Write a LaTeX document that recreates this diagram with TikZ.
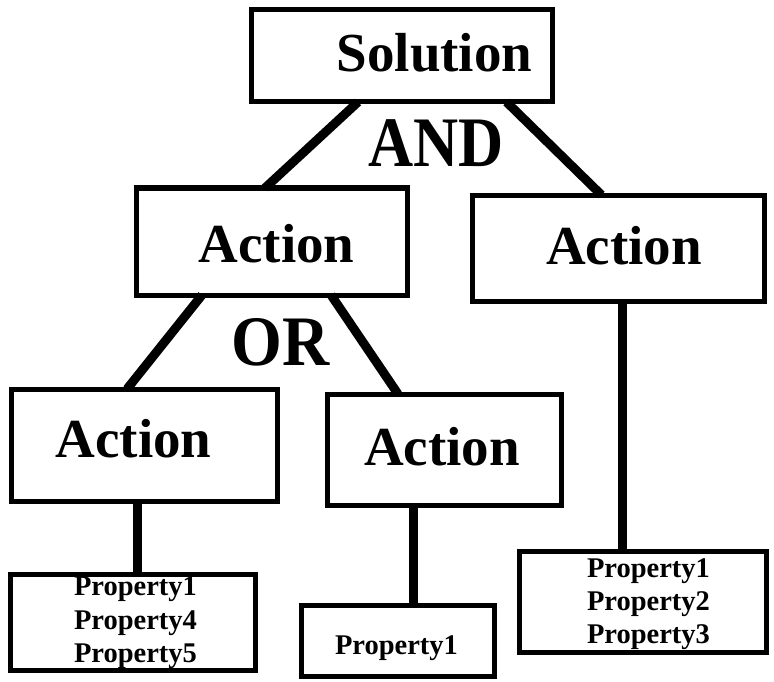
\documentclass[tikz,border=0pt]{standalone}
\usepackage{fontspec}
\usepackage{graphicx}
\setmainfont{Liberation Serif}
\usetikzlibrary{calc}
\tikzset{
  box/.style={draw=black, line width=5pt, rectangle, inner sep=0pt, outer sep=0pt, fill=white},
  conn/.style={draw=black, line width=9pt},
  bigtxt/.style={anchor=base, inner sep=0pt, font=\bfseries\fontsize{55}{60}\selectfont},
  logic/.style={anchor=base, inner sep=0pt, font=\bfseries\fontsize{71}{76}\selectfont},
  proptxt/.style={anchor=base, inner sep=0pt, font=\bfseries\fontsize{28.5}{30}\selectfont},
}
\begin{document}
\begin{tikzpicture}[x=1pt, y=-1pt]
\useasboundingbox (0,0) rectangle (774,682);
% boxes
\node[box, minimum width=301pt, minimum height=92pt] (sol) at (401.5,56) {};
\node[box, minimum width=271pt, minimum height=107pt] (actL) at (271.5,241.5) {};
\node[box, minimum width=292pt, minimum height=106pt] (actR) at (618.5,248) {};
\node[box, minimum width=266pt, minimum height=112pt] (actLL) at (144,445) {};
\node[box, minimum width=234pt, minimum height=111pt] (actLM) at (444,449.5) {};
\node[box, minimum width=245pt, minimum height=96pt] (propL) at (132.5,622) {};
\node[box, minimum width=193pt, minimum height=71pt] (propM) at (397.5,640.5) {};
\node[box, minimum width=247pt, minimum height=101pt] (propR) at (642.5,601.5) {};
% connectors
\draw[conn] ([xshift=-43.5pt]sol.south) -- ([xshift=-6.5pt]actL.north);
\draw[conn] ([xshift=105pt]sol.south) -- ([xshift=-17pt]actR.north);
\draw[conn] ([xshift=-69.5pt]actL.south) -- ([xshift=-17pt]actLL.north);
\draw[conn] ([xshift=59.5pt]actL.south) -- ([xshift=-46pt]actLM.north);
\draw[conn] ([xshift=-7pt]actLL.south) -- ([xshift=-7pt]actLL.south |- propL.north);
\draw[conn] ([xshift=-31pt]actLM.south) -- ([xshift=-31pt]actLM.south |- propM.north);
\draw[conn] ([xshift=3.5pt]actR.south) -- ([xshift=3.5pt]actR.south |- propR.north);
% texts
\node[bigtxt] (tsol) at (434.5,72) {Solution};
\node[logic] (tand) at (436,167) {\scalebox{0.88}[1]{AND}};
\node[bigtxt] (tactL) at (276.5,262) {Action};
\node[logic] (tor) at (280.5,365) {\scalebox{0.92}[1]{OR}};
\node[bigtxt] (tactR) at (624,264) {Action};
\node[bigtxt] (tactLL) at (133.5,457) {Action};
\node[bigtxt] (tactLM) at (442,465) {Action};
\node[proptxt] (pl1) at (135.5,595) {Property1};
\node[proptxt] (pl2) at (135.5,629) {Property4};
\node[proptxt] (pl3) at (135.5,662) {Property5};
\node[proptxt] (pm1) at (396.5,654) {Property1};
\node[proptxt] (pr1) at (648.5,577) {Property1};
\node[proptxt] (pr2) at (648.5,610) {Property2};
\node[proptxt] (pr3) at (648.5,643) {Property3};
\end{tikzpicture}
\end{document}
